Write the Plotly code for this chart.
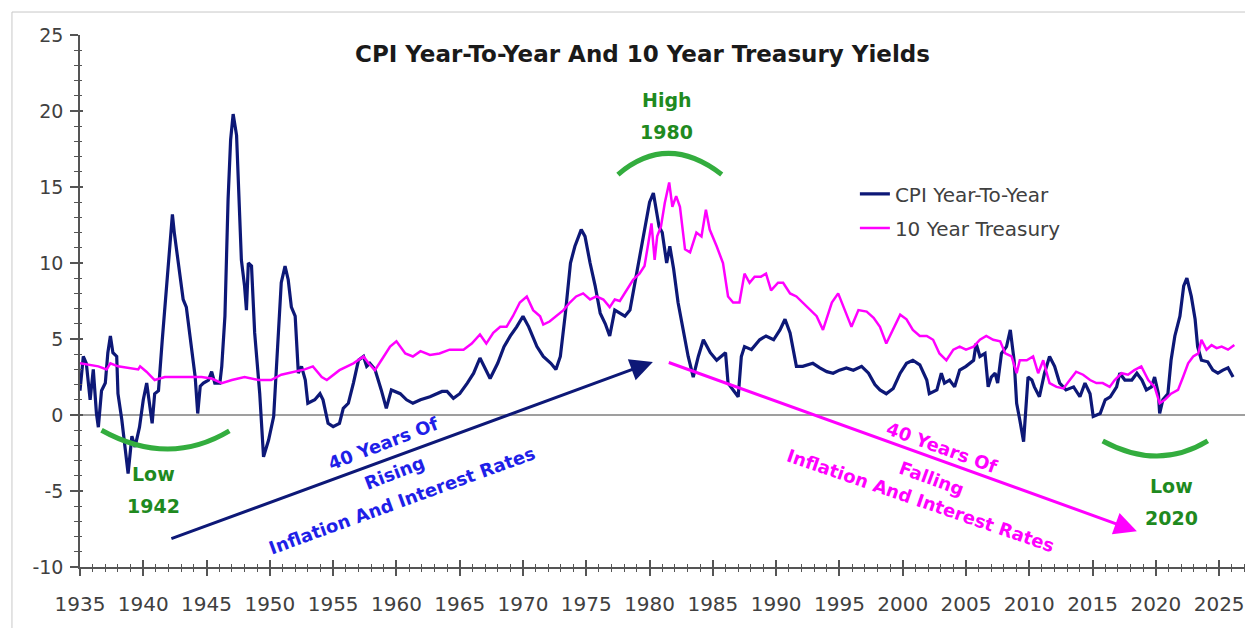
import plotly.graph_objects as go

# ---------------- data ----------------
cpi_years = [1935.0, 1935.26, 1935.5, 1935.8, 1936.05, 1936.3, 1936.45, 1936.7, 1937.0, 1937.2,
             1937.4, 1937.6, 1937.9, 1938.0, 1938.3, 1938.55, 1938.8, 1939.1, 1939.35, 1939.7,
             1940.0, 1940.27, 1940.5, 1940.7, 1940.9, 1941.2, 1941.5, 1941.85, 1942.1, 1942.3,
             1942.45, 1942.77, 1943.15, 1943.4, 1943.7, 1944.1, 1944.3, 1944.5, 1944.75, 1945.15,
             1945.4, 1945.65, 1946.05, 1946.2, 1946.45, 1946.7, 1946.9, 1947.1, 1947.37, 1947.5,
             1947.75, 1948.0, 1948.15, 1948.3, 1948.55, 1948.8, 1949.2, 1949.5, 1949.9, 1950.3,
             1950.6, 1950.9, 1951.2, 1951.45, 1951.7, 1952.0, 1952.25, 1952.5, 1952.8, 1953.0,
             1953.55, 1953.96, 1954.2, 1954.6, 1955.0, 1955.5, 1955.8, 1956.2, 1956.6, 1957.0,
             1957.4, 1957.65, 1957.9, 1958.3, 1958.8, 1959.2, 1959.6, 1960.3, 1960.8, 1961.3,
             1961.9, 1962.65, 1963.6, 1964.0, 1964.5, 1965.0, 1965.6, 1966.1, 1966.6, 1966.9,
             1967.4, 1968.0, 1968.5, 1969.0, 1969.5, 1970.0, 1970.45, 1971.1, 1971.6, 1972.2,
             1972.6, 1972.95, 1973.35, 1973.75, 1974.1, 1974.6, 1974.9, 1975.3, 1975.7, 1976.1,
             1976.5, 1976.85, 1977.25, 1977.65, 1978.05, 1978.45, 1978.85, 1979.2, 1979.6, 1980.0,
             1980.3, 1980.5, 1980.75, 1981.0, 1981.35, 1981.6, 1981.9, 1982.25, 1982.65, 1983.05,
             1983.45, 1983.85, 1984.25, 1984.8, 1985.3, 1986.0, 1986.2, 1986.6, 1987.0, 1987.25,
             1987.5, 1988.05, 1988.7, 1989.2, 1989.8, 1990.3, 1990.7, 1991.1, 1991.6, 1992.1,
             1992.9, 1993.45, 1994.0, 1994.5, 1995.0, 1995.55, 1996.1, 1996.75, 1997.3, 1997.8,
             1998.2, 1998.7, 1999.25, 1999.8, 2000.3, 2000.8, 2001.35, 2001.9, 2002.1, 2002.7,
             2003.05, 2003.3, 2003.7, 2004.1, 2004.5, 2005.0, 2005.6, 2005.8, 2006.1, 2006.5,
             2006.75, 2007.0, 2007.3, 2007.5, 2007.8, 2008.2, 2008.5, 2008.8, 2009.0, 2009.25,
             2009.55, 2009.9, 2010.2, 2010.4, 2010.8, 2011.2, 2011.6, 2012.0, 2012.4, 2012.9,
             2013.5, 2014.0, 2014.4, 2014.8, 2015.05, 2015.6, 2016.0, 2016.4, 2016.9, 2017.15,
             2017.55, 2018.1, 2018.5, 2018.9, 2019.25, 2019.65, 2019.9, 2020.2, 2020.3, 2020.55,
             2020.95, 2021.2, 2021.5, 2021.9, 2022.2, 2022.45, 2022.8, 2023.1, 2023.3, 2023.6,
             2024.1, 2024.5, 2024.9, 2025.3, 2025.7, 2026.1]
cpi_values = [1.6, 3.85, 3.4, 1.0, 3.0, 0.1, -0.8, 1.6, 2.1, 4.1,
              5.2, 4.1, 3.85, 1.4, -0.3, -2.3, -3.85, -1.4, -2.1, -0.8,
              1.0, 2.1, 0.55, -0.55, 1.4, 1.6, 4.95, 8.7, 11.5, 13.2,
              12.0, 9.8, 7.6, 7.1, 4.95, 2.5, 0.1, 1.9, 2.1, 2.3,
              2.85, 2.1, 2.1, 3.2, 6.5, 14.2, 18.1, 19.8, 18.4, 15.3,
              10.2, 8.5, 6.9, 10.0, 9.8, 5.4, 1.4, -2.75, -1.65, -0.1,
              4.3, 8.7, 9.8, 8.9, 7.1, 6.5, 2.75, 3.2, 2.3, 0.77,
              1.0, 1.4, 1.0, -0.55, -0.77, -0.55, 0.44, 0.77, 2.1, 3.6,
              3.85, 3.2, 3.4, 3.0, 1.65, 0.44, 1.65, 1.4, 1.0, 0.77,
              1.0, 1.2, 1.55, 1.55, 1.1, 1.4, 2.1, 2.75, 3.75, 3.2,
              2.4, 3.4, 4.5, 5.2, 5.8, 6.5, 5.8, 4.5, 3.85, 3.4,
              3.0, 3.85, 6.7, 10.0, 11.1, 12.2, 11.75, 10.0, 8.5, 6.7,
              6.0, 5.2, 6.9, 6.7, 6.5, 6.9, 8.7, 10.2, 12.0, 14.0,
              14.6, 13.7, 12.4, 12.0, 10.0, 11.1, 9.6, 7.4, 5.6, 3.85,
              2.5, 3.85, 4.95, 4.1, 3.6, 4.1, 2.1, 1.65, 1.2, 3.85,
              4.5, 4.3, 4.95, 5.2, 4.95, 5.6, 6.3, 5.4, 3.2, 3.2,
              3.4, 3.1, 2.85, 2.75, 2.95, 3.1, 2.95, 3.2, 2.75, 2.0,
              1.65, 1.4, 1.75, 2.75, 3.4, 3.6, 3.3, 2.3, 1.4, 1.65,
              2.75, 2.1, 2.3, 1.85, 2.95, 3.2, 3.6, 4.7, 3.85, 4.05,
              1.85, 2.5, 2.75, 2.1, 4.05, 4.5, 5.6, 3.6, 0.77, -0.33,
              -1.75, 2.5, 2.3, 1.85, 1.2, 2.75, 3.85, 3.2, 2.1, 1.65,
              1.85, 1.2, 2.1, 1.4, -0.1, 0.1, 1.0, 1.2, 1.85, 2.75,
              2.3, 2.3, 2.75, 2.3, 1.65, 1.85, 2.5, 1.4, 0.1, 1.0,
              1.4, 3.6, 5.2, 6.5, 8.5, 9.0, 7.8, 6.3, 4.5, 3.6,
              3.5, 2.95, 2.75, 2.95, 3.1, 2.5]

tsy_years = [1935.0, 1935.65, 1936.45, 1937.1, 1937.4, 1938.0, 1938.8, 1939.6, 1939.75, 1940.25,
             1940.9, 1941.7, 1942.5, 1943.55, 1944.6, 1945.4, 1946.2, 1947.0, 1948.0, 1949.1,
             1950.1, 1950.9, 1952.0, 1952.75, 1953.4, 1954.1, 1954.5, 1955.5, 1956.6, 1957.4,
             1957.8, 1958.3, 1959.0, 1959.5, 1960.0, 1960.7, 1961.3, 1961.9, 1962.65, 1963.4,
             1964.2, 1965.3, 1965.95, 1966.6, 1967.1, 1967.65, 1968.2, 1968.7, 1969.2, 1969.75,
             1970.3, 1970.8, 1971.35, 1971.6, 1972.1, 1972.65, 1973.2, 1973.7, 1974.2, 1974.75,
             1975.3, 1975.8, 1976.35, 1976.85, 1977.25, 1977.65, 1978.2, 1978.7, 1979.2, 1979.6,
             1979.9, 1980.15, 1980.4, 1980.6, 1980.9, 1981.2, 1981.55, 1981.8, 1982.1, 1982.4,
             1982.8, 1983.2, 1983.7, 1984.1, 1984.45, 1984.75, 1985.3, 1985.8, 1986.2, 1986.6,
             1987.1, 1987.5, 1987.9, 1988.3, 1988.8, 1989.2, 1989.6, 1990.15, 1990.55, 1991.1,
             1991.6, 1992.1, 1992.65, 1993.2, 1993.7, 1994.1, 1994.4, 1994.9, 1995.4, 1995.95,
             1996.5, 1997.15, 1997.7, 1998.2, 1998.7, 1999.25, 1999.8, 2000.3, 2000.8, 2001.35,
             2001.9, 2002.4, 2002.9, 2003.45, 2004.0, 2004.5, 2005.0, 2005.6, 2006.1, 2006.6,
             2007.15, 2007.7, 2008.1, 2008.6, 2009.0, 2009.25, 2009.8, 2010.3, 2010.7, 2011.1,
             2011.6, 2012.15, 2012.7, 2013.2, 2013.7, 2014.25, 2014.8, 2015.3, 2015.8, 2016.35,
             2016.75, 2017.3, 2017.8, 2018.3, 2018.85, 2019.4, 2019.9, 2020.3, 2020.7, 2021.2,
             2021.75, 2022.15, 2022.55, 2022.95, 2023.35, 2023.6, 2024.0, 2024.4, 2024.8, 2025.2,
             2025.7, 2026.2]
tsy_values = [3.4, 3.3, 3.2, 3.0, 3.4, 3.2, 3.1, 3.0, 3.2, 2.85,
              2.3, 2.5, 2.5, 2.5, 2.5, 2.4, 2.1, 2.3, 2.5, 2.3,
              2.3, 2.65, 2.85, 3.0, 3.2, 2.5, 2.3, 2.95, 3.4, 3.85,
              3.4, 2.95, 3.85, 4.5, 4.85, 4.05, 3.85, 4.2, 3.95, 4.05,
              4.3, 4.3, 4.7, 5.3, 4.7, 5.4, 5.8, 5.8, 6.5, 7.4,
              7.8, 6.9, 6.5, 5.95, 6.15, 6.5, 6.9, 7.4, 7.8, 8.0,
              7.6, 7.8, 7.6, 7.1, 7.6, 7.5, 8.2, 8.9, 9.3, 9.8,
              11.3, 12.6, 10.2, 11.75, 12.4, 13.95, 15.3, 13.7, 14.4, 13.7,
              10.9, 10.7, 12.0, 11.75, 13.5, 12.2, 11.1, 10.0, 7.8, 7.4,
              7.4, 9.3, 8.7, 9.1, 9.1, 9.3, 8.2, 8.7, 8.7, 8.0,
              7.8, 7.4, 6.9, 6.5, 5.6, 6.7, 7.4, 8.0, 6.9, 5.8,
              6.9, 6.8, 6.4, 5.8, 4.7, 5.6, 6.6, 6.3, 5.6, 5.2,
              5.2, 4.95, 4.05, 3.6, 4.3, 4.5, 4.3, 4.5, 4.95, 5.2,
              4.95, 4.85, 4.05, 3.85, 2.75, 3.6, 3.6, 3.85, 2.75, 3.6,
              2.1, 1.85, 1.75, 2.3, 2.85, 2.65, 2.3, 2.1, 2.1, 1.85,
              2.3, 2.75, 2.65, 2.95, 3.2, 2.3, 1.85, 0.77, 1.0, 1.4,
              1.65, 2.5, 3.4, 3.85, 4.05, 4.95, 4.3, 4.6, 4.4, 4.5,
              4.3, 4.6]

series_names = ["CPI Year-To-Year", "10 Year Treasury"]
title_text = "CPI Year-To-Year And 10 Year Treasury Yields"
x_tick_vals = [1935, 1940, 1945, 1950, 1955, 1960, 1965, 1970, 1975, 1980,
               1985, 1990, 1995, 2000, 2005, 2010, 2015, 2020, 2025]
x_tick_text = [str(v) for v in x_tick_vals]
y_tick_vals = [-10, -5, 0, 5, 10, 15, 20, 25]
y_tick_text = ["-10", "-5", "0", "5", "10", "15", "20", "25"]
x_range = [1935, 2027.2]
y_range = [-10, 25]

# ---------------- styling ----------------
NAVY = "#0d1877"
MAGENTA = "#ff00ff"
BLUE_TXT = "#1f1fe8"
GREEN_ARC = "#33ad3e"
GREEN_TXT = "#1f8a1f"
AX_COL = "#555555"
LBL_COL = "#404040"
FONT = "DejaVu Sans"

fig = go.Figure()
fig.add_trace(go.Scatter(x=cpi_years, y=cpi_values, mode="lines", name=series_names[0],
                         line=dict(color=NAVY, width=3.2), legend="legend"))
fig.add_trace(go.Scatter(x=tsy_years, y=tsy_values, mode="lines", name=series_names[1],
                         line=dict(color=MAGENTA, width=2.5), legend="legend2"))

# zero line
fig.add_shape(type="line", xref="paper", x0=0, x1=1, yref="y", y0=0, y1=0,
              line=dict(color="#7f7f7f", width=1.5), layer="below")

# outer frame
fig.add_shape(type="rect", xref="paper", yref="paper", x0=-0.0583, x1=1.0034, y0=-0.2, y1=1.0432,
              line=dict(color="#c8c8c8", width=1), layer="below")

# green arcs
arcs = [((1936.7, -1.0), (1942.0, -3.45), (1946.8, -1.05)),
        ((1977.5, 15.82), (1981.4, 18.6), (1985.7, 15.82)),
        ((2015.8, -1.71), (2020.2, -3.69), (2024.1, -1.71))]
for p0, c, p2 in arcs:
    fig.add_shape(type="path", xref="x", yref="y",
                  path=f"M {p0[0]},{p0[1]} Q {c[0]},{c[1]} {p2[0]},{p2[1]}",
                  line=dict(color=GREEN_ARC, width=5))

# arrows
fig.add_annotation(x=1980.26, y=3.49, ax=1942.1, ay=-8.17, xref="x", yref="y", axref="x", ayref="y",
                   text="", showarrow=True, arrowhead=2, arrowsize=1.5, arrowwidth=3, arrowcolor=NAVY)
fig.add_annotation(x=2018.5, y=-7.65, ax=1981.4, ay=3.49, xref="x", yref="y", axref="x", ayref="y",
                   text="", showarrow=True, arrowhead=2, arrowsize=1.5, arrowwidth=3, arrowcolor=MAGENTA)

def txt(x, y, s, color, size, angle=0):
    fig.add_annotation(x=x, y=y, xref="x", yref="y", text=s, showarrow=False, textangle=angle,
                       xanchor="center", yanchor="middle",
                       font=dict(family=FONT, size=size, color=color, weight="bold"))

# green labels
txt(1981.37, 20.7, "High", GREEN_TXT, 19)
txt(1981.37, 18.6, "1980", GREEN_TXT, 19)
txt(1940.77, -3.89, "Low", GREEN_TXT, 19)
txt(1940.77, -6.0, "1942", GREEN_TXT, 19)
txt(2021.26, -4.68, "Low", GREEN_TXT, 19)
txt(2021.2, -6.79, "2020", GREEN_TXT, 19)

# rotated captions
txt(1958.93, -1.85, "40 Years Of", BLUE_TXT, 18, -21)
txt(1959.88, -3.76, "Rising", BLUE_TXT, 18, -21)
txt(1960.43, -5.6, "Inflation And Interest Rates", BLUE_TXT, 18, -20)
txt(2003.09, -2.11, "40 Years Of", MAGENTA, 18, 20)
txt(2002.3, -4.15, "Falling", MAGENTA, 18, 20)
txt(2001.43, -5.6, "Inflation And Interest Rates", MAGENTA, 18, 19)

# title
fig.add_annotation(x=0.4816, y=0.9643, xref="paper", yref="paper", text=title_text, showarrow=False,
                   xanchor="center", yanchor="middle",
                   font=dict(family=FONT, size=23, color="#1a1a1a", weight="bold"))

axis_common = dict(showgrid=False, zeroline=False)
fig.update_layout(
    width=1245, height=620,
    margin=dict(l=72, r=6, t=27, b=61, autoexpand=False),
    paper_bgcolor="white", plot_bgcolor="white",
    font=dict(family=FONT, color=LBL_COL),
    xaxis=dict(range=x_range, tickmode="array", tickvals=x_tick_vals, ticktext=x_tick_text,
               ticks="outside", ticklen=7, tickwidth=1.5, ticklabelstandoff=11,
               tickcolor=AX_COL, showline=True, linecolor=AX_COL, linewidth=1.5,
               tickfont=dict(size=20, color=LBL_COL, family=FONT),
               minor=dict(ticks="outside", dtick=1, tick0=1935, ticklen=3, tickcolor=AX_COL, tickwidth=1.2),
               **axis_common),
    yaxis=dict(range=y_range, tickmode="array", tickvals=y_tick_vals, ticktext=y_tick_text,
               ticks="outside", ticklen=8, tickwidth=1.5, ticklabelstandoff=3,
               tickcolor=AX_COL, showline=True, linecolor=AX_COL, linewidth=1.5,
               tickfont=dict(size=19, color=LBL_COL, family=FONT),
               minor=dict(ticks="outside", dtick=1, tick0=-10, ticklen=4, tickcolor=AX_COL, tickwidth=1.2),
               **axis_common),
    xaxis2=dict(overlaying="x", matches="x", anchor="y", side="bottom", range=x_range,
                tick0=1935, dtick=5, ticks="inside", ticklen=7, tickwidth=1.5, tickcolor=AX_COL,
                showticklabels=False, showline=False,
                minor=dict(ticks="inside", dtick=1, ticklen=3, tickcolor=AX_COL, tickwidth=1.2),
                **axis_common),
    yaxis2=dict(overlaying="y", matches="y", anchor="x", side="left", range=y_range,
                tick0=-10, dtick=5, ticks="inside", ticklen=3, tickwidth=1.5, tickcolor=AX_COL,
                showticklabels=False, showline=False,
                minor=dict(ticks="inside", dtick=1, ticklen=2, tickcolor=AX_COL, tickwidth=1.2),
                **axis_common),
    legend=dict(x=0.664, y=0.738, xanchor="left", yanchor="top", bgcolor="rgba(0,0,0,0)",
                font=dict(size=20, color=LBL_COL, family=FONT), borderwidth=0),
    legend2=dict(x=0.664, y=0.674, xanchor="left", yanchor="top", bgcolor="rgba(0,0,0,0)",
                 font=dict(size=20, color=LBL_COL, family=FONT), borderwidth=0),
)

# invisible helper trace so the secondary tick axes are rendered
fig.add_trace(go.Scatter(x=[x_range[0]], y=[y_range[0]], xaxis="x2", yaxis="y2", mode="markers",
                         marker=dict(opacity=0), showlegend=False, hoverinfo="skip"))

fig.write_html("out.html")
